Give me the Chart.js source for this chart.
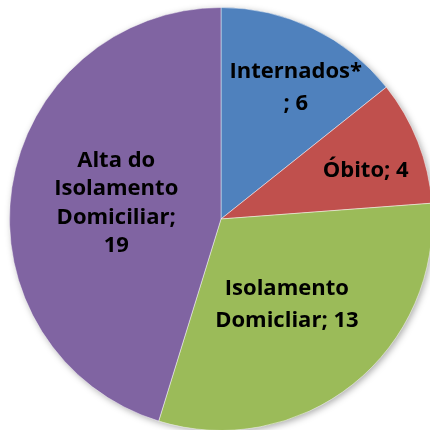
<!DOCTYPE html>
<html>
<head>
<meta charset="utf-8">
<script src="https://cdn.jsdelivr.net/npm/chart.js@4/dist/chart.umd.min.js"></script>
<style>
html,body{margin:0;padding:0;background:#fff;overflow:hidden;width:430px;height:430px;}
#wrap{position:absolute;left:0;top:0;width:440px;height:440px;}
</style>
</head>
<body>
<div id="wrap"><canvas id="c" width="440" height="440"></canvas></div>
<script>
const categories = ["Internados*", "Óbito", "Isolamento Domiciliar", "Alta do Isolamento Domiciliar"];
const values = [6, 4, 13, 19];
const labelLines = [
  ["Internados*", "; 6"],
  ["Óbito; 4"],
  ["Isolamento", "Domicliar; 13"],
  ["Alta do", "Isolamento", "Domiciliar;", "19"]
];
const colors = ["#4F81BD", "#C0504D", "#9BBB59", "#8064A2"];

// label anchor: fraction of radius, angle shift (deg), line height
const labelCfg = [
  {r: 0.722, da: 3.6, lh: 32},
  {r: 0.723, da: 2.5, lh: 32},
  {r: 0.506, da: 0.6, lh: 32},
  {r: 0.502, da: 0.7, lh: 28.3}
];

const shadowPlugin = {
  id: 'shadowPlugin',
  beforeDatasetsDraw(chart) {
    const arc = chart.getDatasetMeta(0).data[0];
    if (!arc) return;
    const ctx = chart.ctx;
    ctx.save();
    ctx.shadowColor = 'rgba(0,0,0,0.35)';
    ctx.shadowBlur = 7;
    ctx.shadowOffsetX = 2;
    ctx.shadowOffsetY = 2;
    ctx.beginPath();
    ctx.arc(arc.x, arc.y, arc.outerRadius - 0.5, 0, Math.PI * 2);
    ctx.fillStyle = '#ffffff';
    ctx.fill();
    ctx.restore();
  }
};

const labelPlugin = {
  id: 'labelPlugin',
  afterDatasetsDraw(chart) {
    const ctx = chart.ctx;
    const meta = chart.getDatasetMeta(0);
    const capH = 15.5;
    ctx.save();
    ctx.font = 'bold 22px "Open Sans", sans-serif';
    ctx.fillStyle = '#000';
    ctx.textAlign = 'center';
    ctx.textBaseline = 'alphabetic';
    meta.data.forEach((arc, i) => {
      const cfg = labelCfg[i];
      const mid = (arc.startAngle + arc.endAngle) / 2 + cfg.da * Math.PI / 180;
      const rr = arc.outerRadius * cfg.r;
      const cx = arc.x + Math.cos(mid) * rr;
      const cy = arc.y + Math.sin(mid) * rr;
      const lines = labelLines[i];
      const y0 = cy - (lines.length - 1) * cfg.lh / 2 + capH / 2;
      lines.forEach((t, j) => ctx.fillText(t, cx, y0 + j * cfg.lh));
    });
    ctx.restore();
  }
};

new Chart(document.getElementById('c'), {
  type: 'pie',
  data: {
    labels: categories,
    datasets: [{
      data: values,
      backgroundColor: colors,
      borderColor: 'rgba(255,255,255,0.45)',
      borderWidth: 1
    }]
  },
  options: {
    responsive: false,
    animation: false,
    layout: {padding: {left: 9, top: 7, right: 7, bottom: 9}},
    plugins: {
      legend: {display: false},
      tooltip: {enabled: false}
    }
  },
  plugins: [shadowPlugin, labelPlugin]
});
</script>
</body>
</html>
